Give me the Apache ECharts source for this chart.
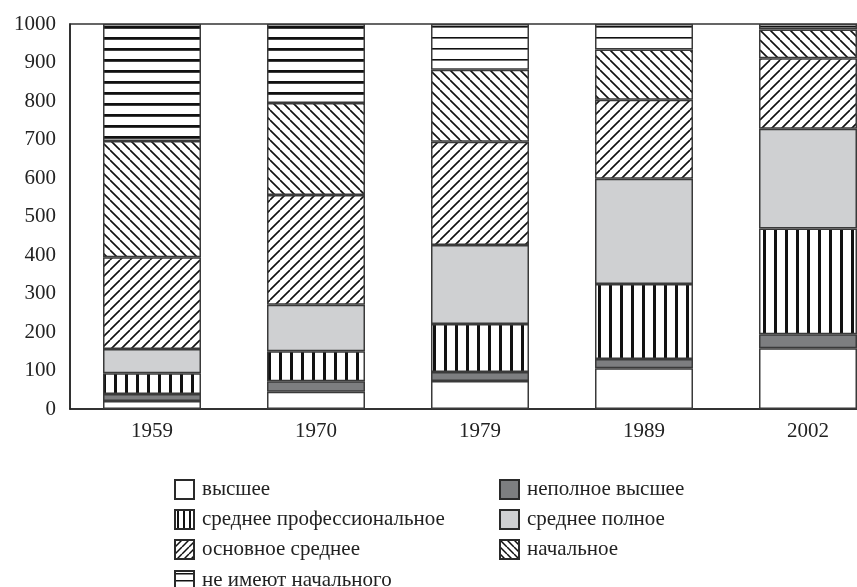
<!DOCTYPE html>
<html>
<head>
<meta charset="utf-8">
<script src="https://cdn.jsdelivr.net/npm/echarts@6/dist/echarts.min.js"></script>
<style>
  html, body { margin: 0; padding: 0; background: #fff; }
  #chart { width: 857px; height: 587px; }
</style>
</head>
<body>
<div id="chart"></div>
<script>
// годы переписи
const years = ['1959', '1970', '1979', '1989', '2002'];

// уровень образования на 1000 человек
const vysshee = [21, 45, 73, 106, 158];
const nepolnoeVysshee = [18, 27, 23, 24, 36];
const srednееProf = [54, 78, 125, 195, 275];
const srednееPolnoe = [63, 121, 205, 273, 259];
const osnovnoeSrednee = [238, 285, 268, 205, 183];
const nachalnoe = [302, 239, 187, 131, 75];
const neImeyut = [304, 205, 119, 66, 14];

const yTicks = [0, 100, 200, 300, 400, 500, 600, 700, 800, 900, 1000];

// штриховки (s — шаг, w — толщина линии)
function makePattern(kind, s, w) {
  const c = document.createElement('canvas');
  c.width = s;
  c.height = s;
  const ctx = c.getContext('2d');
  ctx.fillStyle = '#fff';
  ctx.fillRect(0, 0, s, s);
  ctx.fillStyle = '#111';
  ctx.strokeStyle = '#111';
  if (kind === 'v') {
    ctx.fillRect(Math.floor(s / 2) - 1, 0, w, s);
  } else if (kind === 'h') {
    ctx.fillRect(0, Math.floor(s / 2) - 1, s, w);
  } else {
    ctx.lineWidth = w;
    ctx.beginPath();
    for (let k = -1; k <= 1; k++) {
      if (kind === 'd1') {
        ctx.moveTo(k * s, s);
        ctx.lineTo(k * s + s, 0);
      } else {
        ctx.moveTo(k * s, 0);
        ctx.lineTo(k * s + s, s);
      }
    }
    ctx.stroke();
  }
  return { image: c, repeat: 'repeat' };
}

const font = '"Liberation Serif", "DejaVu Serif", serif';

function mkSeries(name, data, color) {
  return {
    name: name,
    type: 'bar',
    stack: 'total',
    barWidth: 98,
    data: data,
    itemStyle: {
      color: color,
      borderColor: '#3a3a3a',
      borderWidth: 1.5
    }
  };
}

// в 1959 и 1970 горизонтальная штриховка толще
const hThick = makePattern('h', 11, 2.8);
const hThin = makePattern('h', 11, 1.6);
const neImeyutData = neImeyut.map(function (v, i) {
  return { value: v, itemStyle: { color: i < 2 ? hThick : hThin } };
});

// мелкие штриховки для значков легенды
const legendIcons = {
  'среднее профессиональное': makePattern('v', 6, 2),
  'основное среднее': makePattern('d1', 7, 1.5),
  'начальное': makePattern('d2', 7, 1.5),
  'не имеют начального': makePattern('h', 7, 1.5)
};

function mkLegend(left, top, names) {
  return {
    orient: 'vertical',
    left: left,
    top: top,
    itemWidth: 19,
    itemHeight: 19,
    itemGap: 9,
    icon: 'rect',
    data: names.map(function (n) {
      const item = { name: n, itemStyle: { borderColor: '#2a2a2a', borderWidth: 2 } };
      if (legendIcons[n]) item.itemStyle.color = legendIcons[n];
      return item;
    }),
    textStyle: { fontFamily: font, fontSize: 21, color: '#222', padding: [0, 0, 0, 3] }
  };
}

const chart = echarts.init(document.getElementById('chart'));
chart.setOption({
  animation: false,
  backgroundColor: '#fff',
  grid: {
    left: 70,
    width: 820,
    top: 24,
    height: 385,
    outerBoundsMode: 'none',
    show: true,
    borderColor: '#333',
    borderWidth: 1.5
  },
  legend: [
    mkLegend(169, 474, ['высшее', 'среднее профессиональное', 'основное среднее']),
    mkLegend(169, 565, ['не имеют начального']),
    mkLegend(494, 474, ['неполное высшее', 'среднее полное', 'начальное'])
  ],
  xAxis: {
    type: 'category',
    data: years,
    axisTick: { show: false },
    axisLine: { lineStyle: { color: '#222', width: 1.5 } },
    axisLabel: { fontFamily: font, fontSize: 21, color: '#222', margin: 12 }
  },
  yAxis: {
    type: 'value',
    min: yTicks[0],
    max: yTicks[yTicks.length - 1],
    interval: 100,
    splitLine: { show: false },
    axisTick: { show: false },
    axisLine: { show: true, lineStyle: { color: '#222', width: 1.5 } },
    axisLabel: {
      fontFamily: font, fontSize: 21, color: '#222', margin: 14,
      formatter: function (v) { return String(v); }
    }
  },
  series: [
    mkSeries('высшее', vysshee, '#ffffff'),
    mkSeries('неполное высшее', nepolnoeVysshee, '#7d7e80'),
    mkSeries('среднее профессиональное', srednееProf, makePattern('v', 11, 3)),
    mkSeries('среднее полное', srednееPolnoe, '#cfd0d2'),
    mkSeries('основное среднее', osnovnoeSrednee, makePattern('d1', 10, 1.6)),
    mkSeries('начальное', nachalnoe, makePattern('d2', 10, 1.6)),
    mkSeries('не имеют начального', neImeyutData, hThick)
  ]
});
</script>
</body>
</html>
